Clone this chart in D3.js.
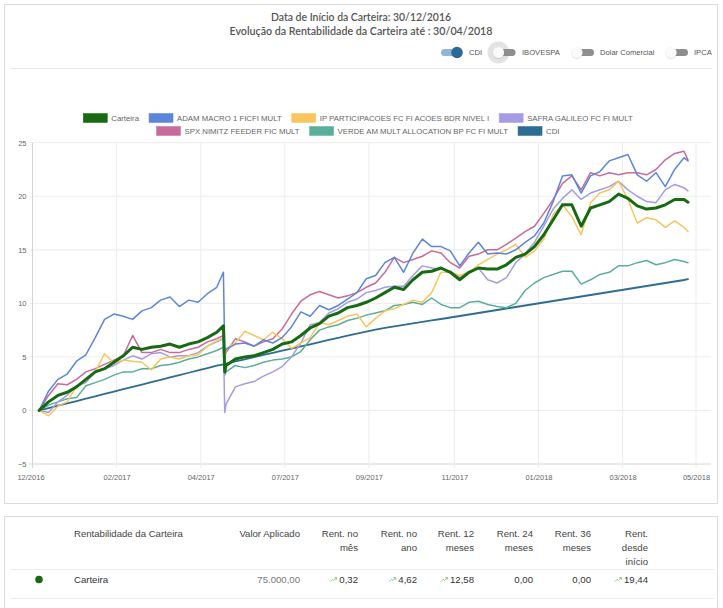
<!DOCTYPE html>
<html>
<head>
<meta charset="utf-8">
<script src="https://cdn.jsdelivr.net/npm/d3@7"></script>
<style>
  html, body { margin: 0; padding: 0; background: #fff; }
  svg { display: block; }
</style>
</head>
<body>
<svg id="chart" width="723" height="608"></svg>
<script>
// ---------------- DATA ----------------
const titleLines = ["Data de Início da Carteira: 30/12/2016", "Evolução da Rentabilidade da Carteira até : 30/04/2018"];
const toggleNames = ["CDI", "IBOVESPA", "Dolar Comercial", "IPCA"];
const toggleOn = [true, false, false, false];

const dates = [
 "2016-12-30","2017-01-06","2017-01-13","2017-01-20","2017-01-27","2017-02-03","2017-02-10","2017-02-17","2017-02-24","2017-03-03",
 "2017-03-10","2017-03-17","2017-03-24","2017-03-31","2017-04-07","2017-04-14","2017-04-21","2017-04-28","2017-05-05","2017-05-12",
 "2017-05-17","2017-05-18",
 "2017-05-19","2017-05-26","2017-06-02","2017-06-09","2017-06-16","2017-06-23","2017-06-30","2017-07-07","2017-07-14","2017-07-21",
 "2017-07-28","2017-08-04","2017-08-11","2017-08-18","2017-08-25","2017-09-01",
 "2017-09-08","2017-09-15","2017-09-22","2017-09-29","2017-10-06","2017-10-13","2017-10-20","2017-10-27","2017-11-03","2017-11-10",
 "2017-11-17","2017-11-24","2017-12-01","2017-12-08","2017-12-15","2017-12-22","2017-12-29","2018-01-05","2018-01-12","2018-01-19",
 "2018-01-26","2018-02-02","2018-02-09","2018-02-16","2018-02-23","2018-03-02","2018-03-09","2018-03-16","2018-03-23","2018-03-30",
 "2018-04-06","2018-04-13","2018-04-20","2018-04-27","2018-04-30"
];

const seriesNames = ["Carteira","ADAM MACRO 1 FICFI MULT","IP PARTICIPACOES FC FI ACOES BDR NIVEL I","SAFRA GALILEO FC FI MULT","SPX NIMITZ FEEDER FIC MULT","VERDE AM MULT ALLOCATION BP FC FI MULT","CDI"];
const seriesColors = ["#156a12","#5b86da","#f8c55e","#a59ce3","#c86b9c","#5aae9b","#2c6d91"];

const carteira = [
 0.0,0.8,1.4,1.7,2.2,2.9,3.6,3.9,4.5,5.1, 5.9,5.7,5.9,6.0,6.2,5.9,6.2,6.4,6.8,7.3,
 7.9,3.6,
 4.2,4.8,5.0,5.1,5.4,5.7,6.2,6.4,7.0,7.7, 8.1,8.8,9.1,9.6,9.8,10.1,
 10.5,11.0,11.5,11.3,12.2,12.9,13.0,13.3,12.9,12.2, 12.9,13.3,13.2,13.2,13.6,14.3,14.6,15.3,16.4,17.8,
 19.2,19.2,17.2,18.9,19.2,19.5,20.2,19.8,19.1,18.8, 18.9,19.2,19.7,19.7,19.44
];
const adam = [
 0.0,1.8,2.9,3.4,4.6,5.2,6.8,8.5,9.0,8.8, 8.5,9.3,9.6,10.3,10.6,9.7,10.3,10.1,10.9,11.5,
 12.9,5.5,
 5.7,6.2,6.3,6.0,6.6,6.3,6.8,7.8,9.2,8.8, 9.8,9.4,9.8,10.4,11.0,12.3,
 12.6,13.8,14.3,12.9,14.7,16.0,15.3,15.3,14.9,13.5, 14.7,15.7,14.6,14.7,14.6,15.0,15.7,16.3,17.5,19.5,
 21.9,22.0,20.3,21.9,22.3,23.3,23.6,23.9,22.0,21.4, 22.2,20.9,22.5,23.6,23.3
];
const ip = [
 0.0,-0.5,0.4,0.8,2.3,2.9,3.6,5.3,4.4,4.7, 4.6,4.5,3.8,4.8,5.0,4.8,5.1,5.2,6.0,6.5,
 6.8,4.7,
 5.8,6.3,7.4,7.0,6.6,7.3,6.7,5.8,6.3,6.8, 8.2,8.0,8.4,8.8,9.0,7.8,
 8.6,9.3,9.5,9.9,10.3,10.1,11.0,12.9,12.9,12.6, 12.9,13.6,14.1,14.6,15.0,15.5,14.3,14.9,16.0,18.3,
 19.2,18.1,16.4,19.4,20.3,20.6,21.4,19.7,17.5,18.0, 17.8,17.1,17.7,17.1,16.7
];
const safra = [
 0.0,-0.2,0.8,1.4,2.3,2.6,3.6,3.9,4.2,4.7, 5.1,4.8,5.3,5.4,5.0,5.1,5.1,5.4,6.0,6.4,
 6.7,-0.2,
 0.6,2.2,2.5,2.7,3.2,3.6,4.1,5.0,6.3,8.0, 8.2,9.1,9.5,10.1,10.4,11.0,
 11.2,11.5,11.6,11.6,12.6,13.5,13.3,13.2,13.0,12.4, 12.9,13.3,12.2,11.9,12.4,13.8,14.6,15.7,17.2,18.8,
 19.8,20.6,19.7,20.3,20.6,20.9,21.4,20.6,20.0,19.5, 19.4,20.6,21.1,20.8,20.5
];
const spx = [
 0.0,1.4,2.5,2.4,2.9,3.6,3.9,4.3,4.7,5.1, 7.0,5.4,5.4,5.7,5.4,5.4,5.7,5.9,6.4,6.7,
 7.0,5.1,
 5.4,6.7,6.4,6.0,6.4,6.7,7.6,9.0,10.2,10.8, 11.1,10.8,10.5,10.7,11.0,11.5,
 11.9,12.9,14.3,13.8,14.1,14.4,14.9,14.7,13.8,13.3, 14.4,14.6,15.0,15.0,15.5,16.1,16.7,17.2,18.4,19.7,
 21.2,21.9,20.6,22.2,21.9,22.2,22.0,22.2,22.2,22.0, 22.5,23.4,24.0,24.2,23.4
];
const verde = [
 0.0,0.5,0.8,1.1,1.2,2.3,2.6,2.9,3.3,3.6, 3.6,3.9,3.9,4.2,4.3,4.5,4.8,5.0,5.3,5.6,
 5.9,3.3,
 3.6,4.2,4.0,4.2,4.5,4.7,4.8,5.0,5.5,6.6, 7.5,7.8,8.0,8.4,8.6,8.9,
 9.1,9.3,9.8,9.9,10.1,9.9,10.5,9.9,9.6,9.6, 10.1,10.2,9.9,9.7,9.6,10.0,11.2,11.9,12.4,12.7,
 13.0,13.0,11.8,12.2,12.7,12.9,13.5,13.5,13.8,14.0, 13.6,13.8,14.1,13.9,13.8
];
const cdi = [
 0.00,0.22,0.44,0.66,0.88,1.10,1.32,1.54,1.76,1.98, 2.20,2.42,2.64,2.86,3.08,3.30,3.52,3.74,3.96,4.18,
 4.30,4.33,
 4.38,4.58,4.78,4.98,5.18,5.38,5.58,5.78,5.98,6.18, 6.38,6.58,6.78,6.98,7.17,7.36,
 7.55,7.70,7.84,7.98,8.12,8.26,8.40,8.54,8.68,8.82, 8.96,9.10,9.24,9.38,9.52,9.66,9.80,9.94,10.08,10.22,
 10.36,10.50,10.64,10.78,10.92,11.06,11.20,11.34,11.48,11.62, 11.76,11.90,12.04,12.18,12.26
];
const seriesValues = [carteira, adam, ip, safra, spx, verde, cdi];

const xTickDates = ["2016-12-25","2017-02-26","2017-04-30","2017-07-02","2017-09-03","2017-11-06","2018-01-08","2018-03-12","2018-05-06"];
const xTickLabels = ["12/2016","02/2017","04/2017","07/2017","09/2017","11/2017","01/2018","03/2018","05/2018"];
const yTicks = [-5, 0, 5, 10, 15, 20, 25];

const tableHeaders = [["Valor Aplicado"],["Rent. no","mês"],["Rent. no","ano"],["Rent. 12","meses"],["Rent. 24","meses"],["Rent. 36","meses"],["Rent.","desde","início"]];
const tableFirstHeader = "Rentabilidade da Carteira";
const tableRowName = "Carteira";
const tableRowValues = ["75.000,00","0,32","4,62","12,58","0,00","0,00","19,44"];
const tableRowArrow = [false,true,true,true,false,false,true];

// ---------------- DRAW ----------------
const svg = d3.select("#chart");
const parse = d3.timeParse("%Y-%m-%d");
const FONT = "'Liberation Sans', Arial, Helvetica, sans-serif";

// panels
svg.append("rect").attr("x",4.5).attr("y",4.5).attr("width",713).attr("height",499)
  .attr("fill","#fff").attr("stroke","#dcdcdc");
svg.append("rect").attr("x",4.5).attr("y",516.5).attr("width",713).attr("height",120)
  .attr("fill","#fff").attr("stroke","#dcdcdc");

// title
const titleWidths = [180, 263];
titleLines.forEach((t,i) => {
  svg.append("text").attr("x",361).attr("y",21 + i*14).attr("text-anchor","middle")
    .attr("font-family","Lato, 'Open Sans', sans-serif").attr("font-size",11.5).attr("font-weight",600)
    .attr("fill","#555").attr("textLength", titleWidths[i]).attr("lengthAdjust","spacingAndGlyphs")
    .text(t);
});

// toggles
const toggleKnobX = [457, 498.5, 577, 671];
const toggleTextX = [469, 522, 600, 694];
toggleNames.forEach((n,i) => {
  const g = svg.append("g");
  const cy = 52.5;
  if (toggleOn[i]) {
    g.append("rect").attr("x",toggleKnobX[i]-16).attr("y",cy-3.5).attr("width",20).attr("height",7).attr("rx",3.5).attr("fill","#8fb5d8");
    g.append("circle").attr("cx",toggleKnobX[i]).attr("cy",cy).attr("r",5.8).attr("fill","#2b6a98");
  } else {
    if (i === 1) g.append("circle").attr("cx",toggleKnobX[i]).attr("cy",cy).attr("r",11).attr("fill","#e3e3e3");
    g.append("rect").attr("x",toggleKnobX[i]-2).attr("y",cy-3.5).attr("width",19).attr("height",7).attr("rx",3.5).attr("fill","#8e8e8e");
    g.append("circle").attr("cx",toggleKnobX[i]).attr("cy",cy+0.6).attr("r",5.9).attr("fill","#000").attr("opacity",0.12);
    g.append("circle").attr("cx",toggleKnobX[i]).attr("cy",cy).attr("r",5.6).attr("fill","#fafafa");
  }
  g.append("text").attr("x",toggleTextX[i]).attr("y",cy+2.7).attr("font-family",FONT).attr("font-size",7.6)
    .attr("fill","#555").text(n);
});
svg.append("line").attr("x1",10).attr("x2",712).attr("y1",68.5).attr("y2",68.5).attr("stroke","#e6e6e6");

// legend
const legendRows = [[0,1,2,3],[4,5,6]];
const legendY = [118, 131];
const legendCenter = 358;
legendRows.forEach((row, ri) => {
  const g = svg.append("g");
  const items = row.map(idx => {
    const t = g.append("text").attr("font-family",FONT).attr("font-size",7.8).attr("fill","#666").text(seriesNames[idx]);
    return {idx, t, w: t.node().getComputedTextLength()};
  });
  const total = d3.sum(items, d => 24 + 4 + d.w) + 10*(items.length-1);
  let cx = legendCenter - total/2;
  items.forEach(d => {
    g.append("rect").attr("x",cx).attr("y",legendY[ri]-4.5).attr("width",24).attr("height",9)
      .attr("fill",seriesColors[d.idx]).attr("stroke",seriesColors[d.idx]).attr("stroke-width",0.5);
    d.t.attr("x",cx+28).attr("y",legendY[ri]+2.8);
    cx += 24 + 4 + d.w + 10;
  });
});

// scales
const x = d3.scaleTime().domain([parse(xTickDates[0]), parse(xTickDates[xTickDates.length-1])]).range([32.5, 696]);
const y = d3.scaleLinear().domain([-5, 25]).range([464, 142.7]);
const plotRight = 711;

// grid
const grid = svg.append("g");
yTicks.forEach(v => {
  grid.append("line").attr("x1",29).attr("x2",plotRight).attr("y1",y(v)).attr("y2",y(v))
    .attr("stroke", v === -5 ? "#d4d4d4" : "#ececec").attr("stroke-width",1);
});
xTickDates.forEach((d,i) => {
  const xx = x(parse(d));
  grid.append("line").attr("x1",xx).attr("x2",xx).attr("y1",y(25)).attr("y2",y(-5)+4)
    .attr("stroke", i === 0 ? "#d4d4d4" : "#ececec").attr("stroke-width",1);
});

// axes with d3
const yAxis = d3.axisLeft(y).tickValues(yTicks).tickSize(0).tickPadding(6);
const yG = svg.append("g").attr("transform","translate(32.5,0)").call(yAxis);
yG.select(".domain").remove();
yG.selectAll("text").attr("font-family",FONT).attr("font-size",7.5).attr("fill","#666");

const xAxis = d3.axisBottom(x).tickValues(xTickDates.map(parse)).tickSize(0).tickPadding(11)
  .tickFormat((d,i) => xTickLabels[i]);
const xG = svg.append("g").attr("transform",`translate(0,${y(-5)})`).call(xAxis);
xG.select(".domain").remove();
xG.selectAll("text").attr("font-family",FONT).attr("font-size",7.5).attr("fill","#666");
xG.selectAll(".tick text").filter((d,i) => i === 0).attr("dx", -2);

// lines
const dateObjs = dates.map(parse);
const line = d3.line().x((d,i) => x(dateObjs[i])).y(d => y(d));
const widths = [3, 1.5, 1.5, 1.5, 1.5, 1.5, 1.8];
for (let s = seriesValues.length - 1; s >= 0; s--) {
  svg.append("path").datum(seriesValues[s]).attr("d", line)
    .attr("fill","none").attr("stroke",seriesColors[s]).attr("stroke-width",widths[s])
    .attr("stroke-linejoin","round").attr("stroke-linecap","round");
}

// table
const T = svg.append("g").attr("font-family",FONT).attr("font-size",9.6).attr("fill","#444");
T.append("text").attr("x",74).attr("y",536.5).text(tableFirstHeader);
const colRight = [300, 358, 417, 474, 533, 591, 648];
tableHeaders.forEach((lines, c) => {
  lines.forEach((ln, li) => {
    T.append("text").attr("x",colRight[c]).attr("y",536.5 + li*14).attr("text-anchor","end").text(ln);
  });
});
svg.append("line").attr("x1",10).attr("x2",714).attr("y1",569.5).attr("y2",569.5).attr("stroke","#ececec");
svg.append("line").attr("x1",10).attr("x2",714).attr("y1",598.5).attr("y2",598.5).attr("stroke","#ececec");
svg.append("circle").attr("cx",39).attr("cy",579.5).attr("r",3.8).attr("fill",seriesColors[0]);
T.append("text").attr("x",74).attr("y",583).attr("fill","#333").text(tableRowName);
tableRowValues.forEach((v, c) => {
  const t = T.append("text").attr("x",colRight[c]).attr("y",583).attr("text-anchor","end")
    .attr("fill", c === 0 ? "#777" : "#333").text(v);
  if (tableRowArrow[c]) {
    const w = t.node().getComputedTextLength();
    const ax = colRight[c] - w - 9, ay = 579.5;
    svg.append("path").attr("d",`M${ax},${ay+2} L${ax+2.2},${ay-0.2} L${ax+3.6},${ay+1} L${ax+6},${ay-1.6}`)
      .attr("fill","none").attr("stroke","#7cc47f").attr("stroke-width",0.9);
    svg.append("path").attr("d",`M${ax+4.2},${ay-1.9} L${ax+6.4},${ay-2} L${ax+6.3},${ay+0.1}`)
      .attr("fill","none").attr("stroke","#7cc47f").attr("stroke-width",0.9);
  }
});
</script>
</body>
</html>
